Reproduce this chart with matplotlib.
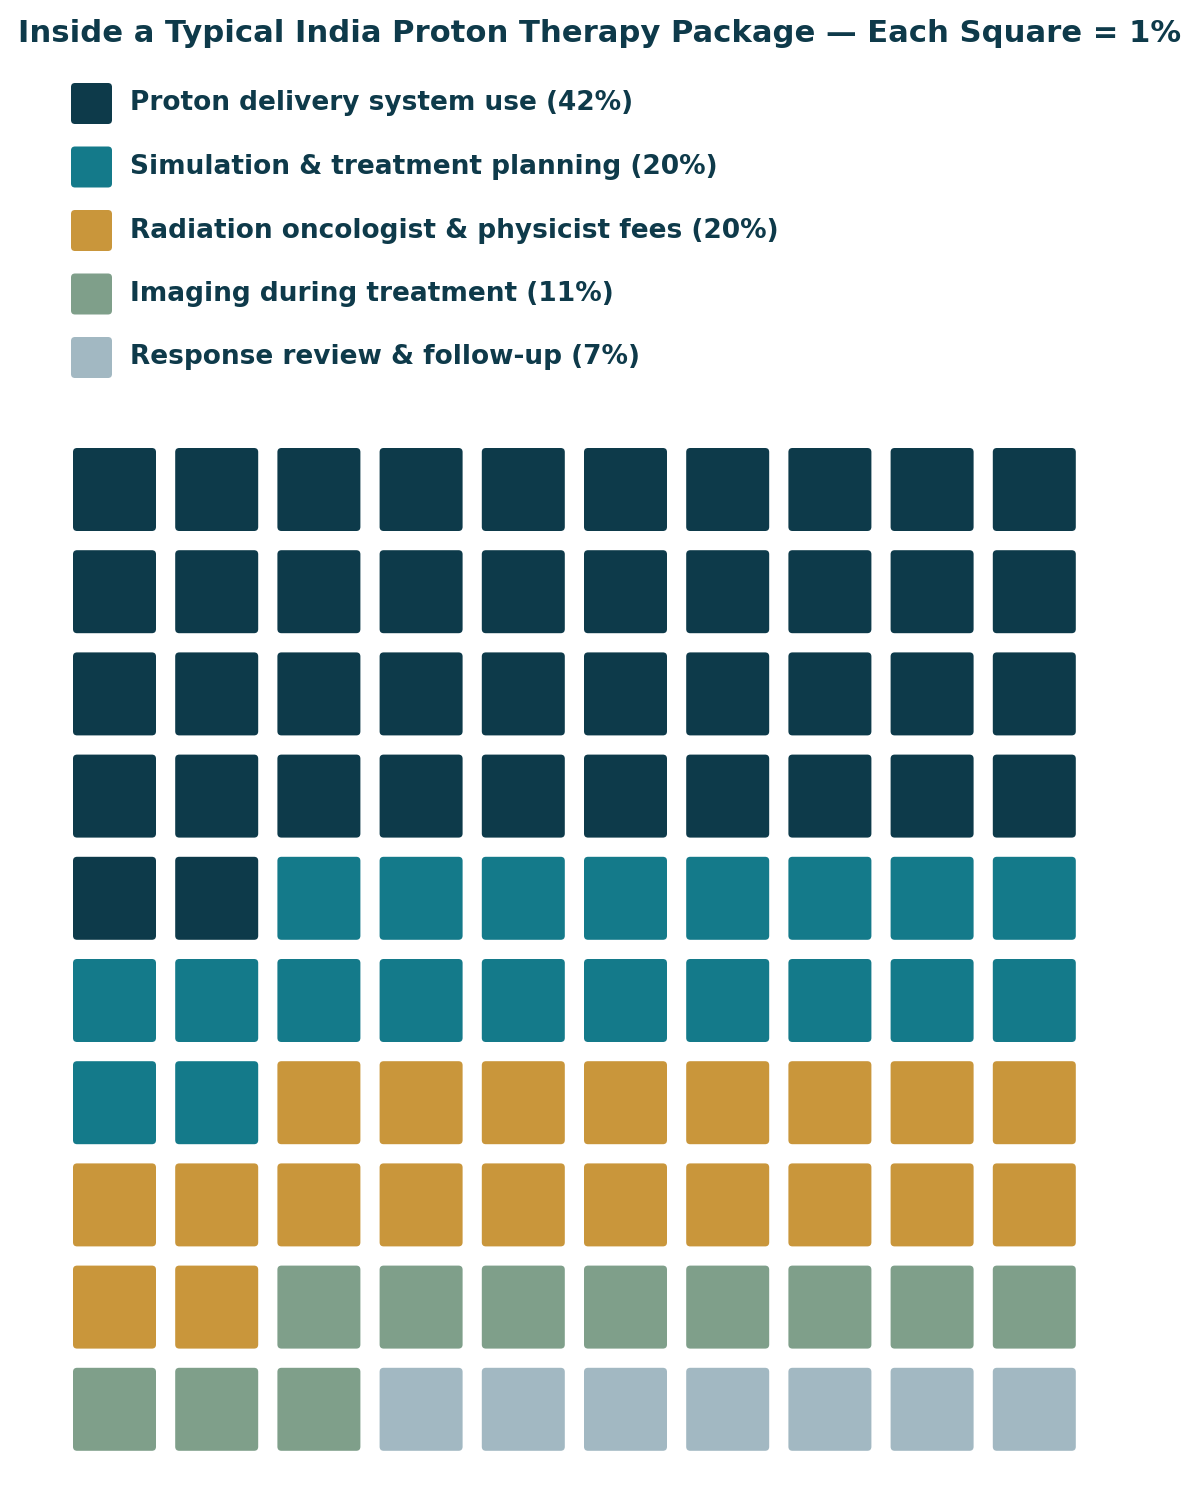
import numpy as np
import matplotlib.pyplot as plt
from matplotlib.patches import FancyBboxPatch

# data
categories = ['Proton delivery system use', 'Simulation & treatment planning',
              'Radiation oncologist & physicist fees', 'Imaging during treatment',
              'Response review & follow-up']
shares = [42, 20, 20, 11, 7]
colors = ['#0D3A4A', '#147A8A', '#C9963B', '#7F9F8A', '#A2B8C2']
text_color = '#0E3A4A'
n_cols = 10
n_rows = 10

W, H = 1200, 1502
fig = plt.figure(figsize=(W / 100, H / 100), dpi=100)
fig.patch.set_facecolor('white')

# overlay axes in pixel coords for title + legend
ax0 = fig.add_axes([0, 0, 1, 1])
ax0.set_xlim(0, W)
ax0.set_ylim(H, 0)
ax0.axis('off')

ax0.text(W / 2, 33.5, 'Inside a Typical India Proton Therapy Package \u2014 Each Square = 1%',
         ha='center', va='center', fontsize=22.1, fontweight='bold', color=text_color)

leg_x, leg_y0, leg_step, leg_sz = 71, 83, 63.5, 41
for i, (c, s, col) in enumerate(zip(categories, shares, colors)):
    y = leg_y0 + i * leg_step
    ax0.add_patch(FancyBboxPatch((leg_x, y), leg_sz, leg_sz,
                                 boxstyle='round,pad=0,rounding_size=4',
                                 fc=col, ec='none'))
    ax0.text(130, y + leg_sz / 2, f'{c} ({s}%)', ha='left', va='center',
             fontsize=19.0, fontweight='bold', color=text_color)

# waffle grid
pitch = 102.2
left_px = 73 - 9.6
top_px = 448 - 9.6
ax = fig.add_axes([left_px / W, (H - top_px - pitch * n_rows) / H,
                   pitch * n_cols / W, pitch * n_rows / H])
ax.set_xlim(0, n_cols)
ax.set_ylim(n_rows, 0)
ax.axis('off')

cell_cat = np.repeat(np.arange(len(shares)), shares)
size = 83 / pitch
off = (1 - size) / 2
for k, cat in enumerate(cell_cat):
    r, c = divmod(k, n_cols)
    ax.add_patch(FancyBboxPatch((c + off, r + off), size, size,
                                boxstyle='round,pad=0,rounding_size=0.04',
                                fc=colors[cat], ec='none'))

fig.savefig('out.png', dpi=100)
